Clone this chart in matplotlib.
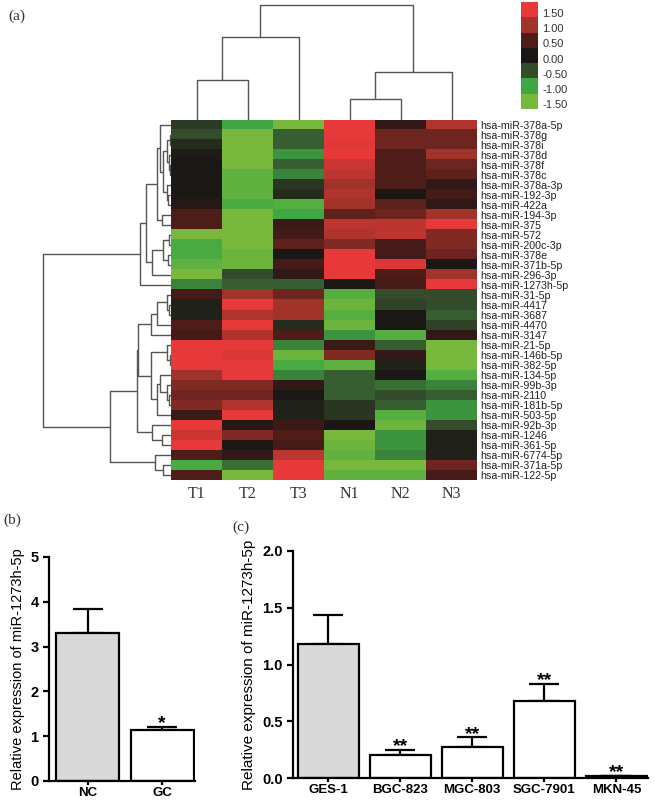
import numpy as np
import matplotlib
matplotlib.use('Agg')
from matplotlib import pyplot as plt
from matplotlib.colors import LinearSegmentedColormap, ListedColormap

# ---- data ----
samples = ["T1", "T2", "T3", "N1", "N2", "N3"]
mirnas = ["hsa-miR-378a-5p", "hsa-miR-378g", "hsa-miR-378i", "hsa-miR-378d",
          "hsa-miR-378f", "hsa-miR-378c", "hsa-miR-378a-3p", "hsa-miR-192-3p",
          "hsa-miR-422a", "hsa-miR-194-3p", "hsa-miR-375", "hsa-miR-572",
          "hsa-miR-200c-3p", "hsa-miR-378e", "hsa-miR-371b-5p", "hsa-miR-296-3p",
          "hsa-miR-1273h-5p", "hsa-miR-31-5p", "hsa-miR-4417", "hsa-miR-3687",
          "hsa-miR-4470", "hsa-miR-3147", "hsa-miR-21-5p", "hsa-miR-146b-5p",
          "hsa-miR-382-5p", "hsa-miR-134-5p", "hsa-miR-99b-3p", "hsa-miR-2110",
          "hsa-miR-181b-5p", "hsa-miR-503-5p", "hsa-miR-92b-3p", "hsa-miR-1246",
          "hsa-miR-361-5p", "hsa-miR-6774-5p", "hsa-miR-371a-5p", "hsa-miR-122-5p"]

expr = [
    [-0.35, -1.0, -1.5, 1.5, 0.2, 1.1],
    [-0.5, -1.5, -0.6, 1.5, 0.7, 0.7],
    [-0.2, -1.5, -0.6, 1.45, 0.7, 0.7],
    [-0.05, -1.5, -0.9, 1.5, 0.5, 1.0],
    [0.0, -1.5, -0.6, 1.3, 0.5, 0.7],
    [0.0, -1.3, -0.8, 1.2, 0.5, 0.6],
    [0.0, -1.3, -0.3, 1.0, 0.5, 0.2],
    [0.0, -1.3, -0.2, 1.1, 0.0, 0.4],
    [0.1, -1.1, -1.2, 1.0, 0.6, 0.2],
    [0.5, -1.5, -1.0, 0.6, 0.7, 1.0],
    [0.5, -1.5, 0.3, 1.2, 1.2, 1.5],
    [-1.5, -1.5, 0.4, 1.1, 1.2, 0.8],
    [-1.1, -1.5, 0.6, 0.8, 0.4, 0.8],
    [-1.1, -1.4, 0.0, 1.5, 0.4, 0.7],
    [-1.3, -1.4, 0.4, 1.5, 1.4, 0.0],
    [-1.5, -0.5, 0.2, 1.5, 0.5, 1.0],
    [-0.8, -0.6, -0.6, 0.0, 0.4, 1.5],
    [0.4, 1.0, 0.7, -1.2, -0.5, -0.5],
    [-0.1, 1.5, 1.0, -1.4, -0.4, -0.5],
    [-0.1, 1.1, 1.0, -1.2, 0.0, -0.6],
    [0.5, 1.5, -0.2, -1.4, 0.0, -0.4],
    [0.4, 1.1, 0.5, -0.9, -1.2, 0.2],
    [1.5, 1.5, -0.8, 0.3, -0.6, -1.5],
    [1.5, 1.4, -1.4, 0.8, 0.2, -1.5],
    [1.5, 1.5, -1.1, -1.3, -0.1, -1.5],
    [1.0, 1.5, -0.8, -0.6, 0.0, -1.2],
    [0.8, 0.8, 0.2, -0.6, -0.7, -0.8],
    [0.7, 0.7, 0.0, -0.6, -0.5, -0.6],
    [0.8, 1.1, -0.1, -0.3, -0.6, -0.9],
    [0.3, 1.5, -0.1, -0.3, -1.2, -0.9],
    [1.5, 0.1, 0.3, 0.0, -1.4, -0.5],
    [1.3, 0.8, 0.5, -1.5, -0.9, -0.1],
    [1.5, 0.0, 0.4, -1.4, -0.9, -0.1],
    [0.5, 0.2, 1.2, -1.3, -0.8, -0.1],
    [-1.1, -0.7, 1.5, -1.5, -1.5, 0.7],
    [0.5, -1.5, 1.5, -1.3, -1.3, 0.4],
]

# dendrograms: (left, right, height)
col_tree = (((0, 1, 40), 2, 83), ((3, 4, 21), 5, 48), 115)

row_top = ((((0, (((1, 2, 1), (3, (4, 5, 1.5), 2), 4), (6, (7, 8, 3), 4), 8), 11),
             (9, 10, 9), 14),
            (((11, 12, 2), (13, 14, 3), 8), 15, 19), 25), 16, 31)
row_bottom = ((((((17, (18, 19, 2), 4), 20, 14), 21, 20),
                ((22, (23, 24, 1), 4), ((25, (26, (27, 28, 2), 4), 11), 29, 14), 20), 33),
               (30, (31, 32, 9), 19), 34),
              (33, (34, 35, 8), 16), 61)
row_tree = (row_top, row_bottom, 128)

legend_levels = [1.5, 1.0, 0.5, 0.0, -0.5, -1.0, -1.5]
legend_colors = ["#e8393a", "#a0332a", "#4e1d19", "#1b1714", "#344b2c", "#3ea744", "#78b83c"]

groups_b = ["NC", "GC"]
means_b = [3.30, 1.13]
errs_b = [0.54, 0.08]
stars_b = ["", "*"]

groups_c = ["GES-1", "BGC-823", "MGC-803", "SGC-7901", "MKN-45"]
means_c = [1.18, 0.20, 0.275, 0.675, 0.018]
errs_c = [0.26, 0.05, 0.085, 0.155, 0.004]
stars_c = ["", "**", "**", "**", "**"]


def draw_tree(ax, node, side):
    if isinstance(node, int):
        return node, 0
    left, right, h = node
    pl, hl = draw_tree(ax, left, side)
    pr, hr = draw_tree(ax, right, side)
    p = [pl, pl, pr, pr]
    q = [hl, h, h, hr]
    if side == 'top':
        ax.plot(p, q, color='#555555', lw=1.0, solid_capstyle='butt')
    else:
        ax.plot(q, p, color='#555555', lw=1.0, solid_capstyle='butt')
    return (pl + pr) / 2, h


def main():
    W, H = 655, 800
    fig = plt.figure(figsize=(6.55, 8.0), dpi=100)

    def rect(x0, y0, x1, y1):
        return [x0 / W, 1 - y1 / H, (x1 - x0) / W, (y1 - y0) / H]

    serif = 'Liberation Serif'
    sans = 'Liberation Sans'

    # heatmap
    cmap = LinearSegmentedColormap.from_list('rg', legend_colors[::-1])
    ax = fig.add_axes(rect(171, 120, 477, 480))
    ax.imshow(np.array(expr), aspect='auto', cmap=cmap, vmin=-1.5, vmax=1.5,
              interpolation='nearest')
    ax.set_xticks(range(len(samples)))
    ax.set_xticklabels(samples, fontfamily=serif, fontsize=11.5, color='#333333')
    ax.set_yticks(range(len(mirnas)))
    ax.set_yticklabels(mirnas, fontfamily=sans, fontsize=7.7, color='#222222')
    ax.yaxis.tick_right()
    ax.tick_params(length=0, pad=2)
    ax.tick_params(axis='x', pad=4)
    for s in ax.spines.values():
        s.set_visible(False)

    # column dendrogram
    axc = fig.add_axes(rect(171, 0, 477, 120))
    draw_tree(axc, col_tree, 'top')
    axc.set_xlim(-0.5, len(samples) - 0.5)
    axc.set_ylim(0, 120)
    axc.axis('off')

    # row dendrogram
    axr = fig.add_axes(rect(0, 120, 171, 480))
    draw_tree(axr, row_tree, 'left')
    axr.set_xlim(171, 0)
    axr.set_ylim(len(mirnas) - 0.5, -0.5)
    axr.axis('off')

    # legend
    axl = fig.add_axes(rect(521, 2, 538, 109))
    axl.imshow(np.arange(len(legend_levels))[:, None], aspect='auto',
               cmap=ListedColormap(legend_colors), interpolation='nearest')
    axl.set_xticks([])
    axl.set_yticks([i + 0.2 for i in range(len(legend_levels))])
    axl.set_yticklabels(["%.2f" % v for v in legend_levels], fontfamily=sans,
                        fontsize=8, color='#333333')
    axl.yaxis.tick_right()
    axl.tick_params(length=0, pad=3)
    for s in axl.spines.values():
        s.set_visible(False)

    fig.text(8 / W, 1 - 16 / H, "(a)", fontfamily=serif, fontsize=11, va='center', color='#333333')
    fig.text(3 / W, 1 - 520 / H, "(b)", fontfamily=serif, fontsize=11, va='center', color='#333333')
    fig.text(232 / W, 1 - 527 / H, "(c)", fontfamily=serif, fontsize=11, va='center', color='#333333')

    # bar charts
    def bars(axb, groups, means, errs, stars, ylabel, lsize):
        x = np.arange(len(groups))
        colors = ['#d9d9d9'] + ['white'] * (len(groups) - 1)
        axb.bar(x, means, width=0.84, color=colors, edgecolor='black', linewidth=1.6, zorder=2)
        axb.errorbar(x, means, yerr=[np.zeros(len(errs)), errs], fmt='none',
                     ecolor='black', elinewidth=1.6, capsize=11, capthick=1.6, zorder=1)
        for xi, m, e, st in zip(x, means, errs, stars):
            if st:
                axb.annotate(st, (xi, m + e), xytext=(0, -4), textcoords='offset points',
                             ha='center', va='bottom', fontsize=14, fontweight='bold',
                             fontfamily=sans)
        axb.set_xticks(x)
        axb.set_xticklabels(groups, fontfamily=sans, fontsize=9.5, fontweight='bold')
        for lab in axb.get_yticklabels():
            lab.set_fontfamily(sans)
            lab.set_fontweight('bold')
            lab.set_fontsize(10.5)
        axb.set_ylabel(ylabel, fontfamily=sans, fontsize=lsize, labelpad=4)
        axb.spines['top'].set_visible(False)
        axb.spines['right'].set_visible(False)
        axb.spines['left'].set_linewidth(1.6)
        axb.spines['bottom'].set_linewidth(1.6)
        axb.tick_params(width=1.6, length=4, direction='out')
        axb.tick_params(axis='x', length=3, pad=1.5)

    axb = fig.add_axes(rect(49, 557, 195, 781))
    axb.set_ylim(0, 5)
    axb.set_yticks([0, 1, 2, 3, 4, 5])
    bars(axb, groups_b, means_b, errs_b, stars_b, "Relative expression of miR-1273h-5p", 10.5)
    axb.set_xlim(-0.52, 1.44)

    axc2 = fig.add_axes(rect(293, 551, 648, 778))
    axc2.set_ylim(0, 2.0)
    axc2.set_yticks([0, 0.5, 1.0, 1.5, 2.0])
    axc2.set_yticklabels(["0.0", "0.5", "1.0", "1.5", "2.0"])
    bars(axc2, groups_c, means_c, errs_c, stars_c, "Relative expression of miR-1273h-5p", 11)
    axc2.set_xlim(-0.49, 4.44)

    fig.savefig('out.png', dpi=100)


if __name__ == "__main__":
    main()
